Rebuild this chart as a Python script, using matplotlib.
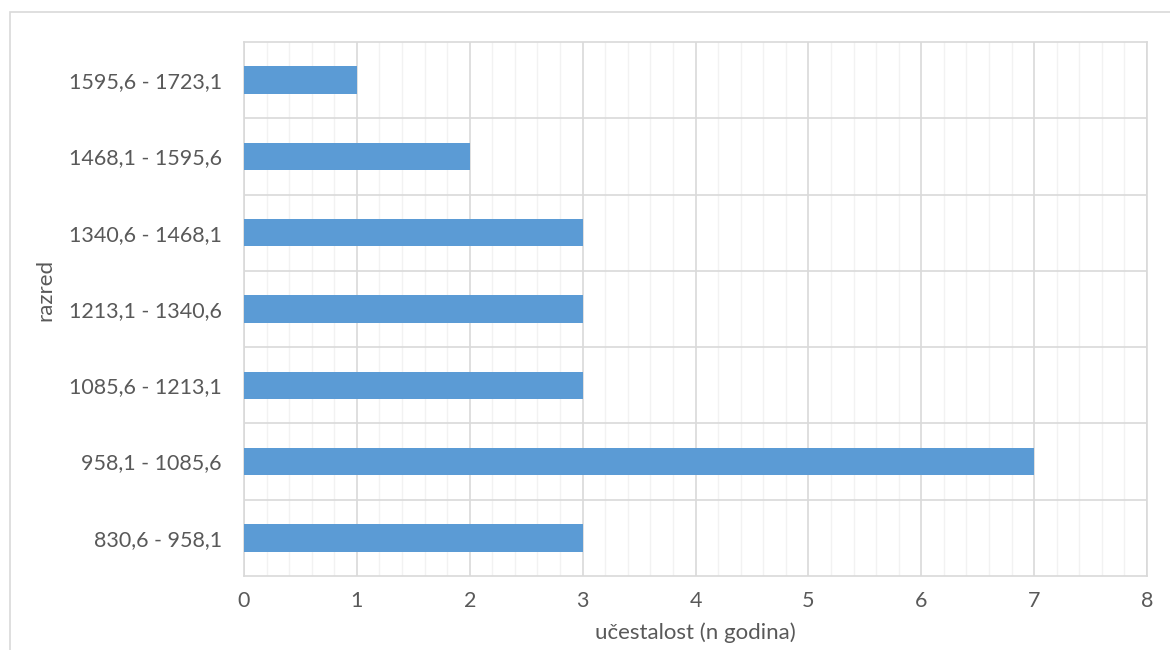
import matplotlib
matplotlib.use('Agg')
from matplotlib import pyplot as plt
from matplotlib.patches import Rectangle
from matplotlib.ticker import MultipleLocator

# class intervals (bottom to top) and frequencies
razredi = ['830,6 - 958,1', '958,1 - 1085,6', '1085,6 - 1213,1', '1213,1 - 1340,6',
           '1340,6 - 1468,1', '1468,1 - 1595,6', '1595,6 - 1723,1']
ucestalost = [3, 7, 3, 3, 3, 2, 1]

BAR_COLOR = '#5B9BD5'
TEXT_COLOR = '#595959'
W, H = 1170, 650

plt.rcParams['font.family'] = ['Lato', 'DejaVu Sans']

fig = plt.figure(figsize=(W / 100, H / 100), dpi=100)
fig.patch.set_facecolor('white')

# outer chart border
fig.patches.append(Rectangle((10 / W, -0.1), 1.2, 1 - 12 / H + 0.1, transform=fig.transFigure,
                             fill=False, edgecolor='#D9D9D9', linewidth=1.2))

left, right, top, bottom = 244, 1147, 42, 576
ax = fig.add_axes([left / W, 1 - bottom / H, (right - left) / W, (bottom - top) / H])

y = range(len(razredi))
ax.barh(y, ucestalost, height=0.36, color=BAR_COLOR, zorder=3)

ax.set_xlim(0, 8)
ax.set_ylim(-0.5, len(razredi) - 0.5)
ax.xaxis.set_major_locator(MultipleLocator(1))
ax.xaxis.set_minor_locator(MultipleLocator(0.2))
ax.set_yticks(list(y))
ax.set_yticklabels(razredi)
ax.set_yticks([i + 0.5 for i in range(len(razredi) - 1)], minor=True)

ax.grid(which='major', axis='x', color='#D9D9D9', linewidth=1.2, zorder=0)
ax.grid(which='minor', axis='x', color='#F2F2F2', linewidth=1.0, zorder=0)
ax.grid(which='minor', axis='y', color='#D9D9D9', linewidth=1.2, zorder=0)

for s in ax.spines.values():
    s.set_color('#D9D9D9')
    s.set_linewidth(1.2)

ax.tick_params(which='both', length=0, colors=TEXT_COLOR, labelsize=15.5)
ax.tick_params(axis='x', pad=11)
ax.tick_params(axis='y', pad=16)

ax.set_xlabel('učestalost (n godina)', color=TEXT_COLOR, fontsize=16)
ax.set_ylabel('razred', color=TEXT_COLOR, fontsize=16)
ax.xaxis.set_label_coords(695 / W, 1 - 622 / H, transform=fig.transFigure)
ax.yaxis.set_label_coords(55 / W, 1 - 290 / H, transform=fig.transFigure)

fig.savefig('out.png', dpi=100)
